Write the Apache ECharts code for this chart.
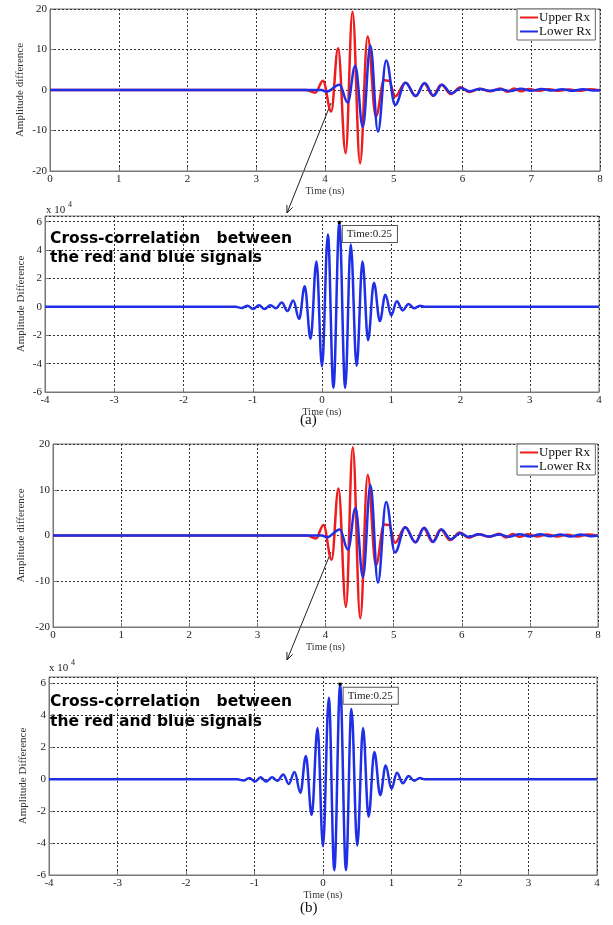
<!DOCTYPE html>
<html>
<head>
<meta charset="utf-8">
<script src="https://cdn.jsdelivr.net/npm/echarts@6/dist/echarts.min.js"></script>
<style>
  html, body { margin: 0; padding: 0; background: #fff; }
  #ec { width: 613px; height: 925px; }
</style>
</head>
<body>
<div id="ec"></div>
<script>
// received signals (ns, amplitude) - peaks
var upperT = [0, 3.72, 3.86, 3.97, 4.09, 4.19, 4.30, 4.40, 4.51, 4.62, 4.74, 4.86, 4.93, 5.02, 5.17, 5.32, 5.44, 5.57, 5.69, 5.83, 5.97, 6.10, 6.25, 6.40, 6.55, 6.65, 6.75, 6.85, 6.97, 7.10, 7.25, 7.40, 7.55, 7.70, 7.85, 8.0];
var upperV = [0, 0, -0.65, 2.3, -5.3, 10.3, -15.6, 19.3, -18.1, 13.2, -6.5, 2.4, 2.3, -1.6, 1.8, -1.5, 1.6, -1.4, 1.3, -1.0, 0.65, -0.5, 0.3, -0.3, 0.4, -0.45, 0.35, -0.3, 0.25, -0.2, 0.2, -0.2, 0.15, -0.2, 0.2, -0.1];
var lowerT = [0, 3.95, 4.02, 4.21, 4.33, 4.44, 4.55, 4.66, 4.77, 4.89, 5.02, 5.17, 5.32, 5.45, 5.58, 5.70, 5.84, 5.98, 6.10, 6.25, 6.40, 6.55, 6.70, 6.85, 7.00, 7.15, 7.30, 7.45, 7.60, 7.75, 7.90, 8.0];
var lowerV = [0, 0, -0.4, 1.3, -3.1, 6.0, -9.1, 11.0, -10.3, 7.3, -3.7, 1.8, -1.5, 1.7, -1.4, 1.3, -0.8, 0.5, -0.3, 0.25, -0.2, 0.2, -0.25, 0.3, -0.2, 0.25, -0.15, 0.2, -0.2, 0.2, -0.15, 0];

// cross-correlation (ns, x 10^4)
var corrT = [-4, -1.25, -1.16, -1.075, -0.995, -0.91, -0.83, -0.745, -0.665, -0.58, -0.5, -0.415, -0.33, -0.25, -0.165, -0.08, 0.0, 0.085, 0.165, 0.25, 0.335, 0.415, 0.5, 0.585, 0.665, 0.75, 0.835, 0.915, 1.0, 1.08, 1.165, 1.25, 1.33, 1.415, 1.48, 4];
var corrV = [0, 0, -0.08, 0.08, -0.15, 0.12, -0.15, 0.12, -0.1, 0.3, -0.3, 0.45, -0.85, 1.45, -2.25, 3.2, -4.2, 5.1, -5.7, 5.9, -5.7, 4.4, -4.15, 3.2, -2.35, 1.7, -1.0, 0.85, -0.6, 0.4, -0.25, 0.2, -0.1, 0.08, 0, 0];
var peakTime = 0.25;
var peakValue = 5.95;

var serif = "'Liberation Serif', 'DejaVu Serif', serif";
var red = '#ee1c1c';
var blue = '#1f2fe6';

function pairs(t, v) {
  return t.map(function (x, i) { return [x, v[i]]; });
}

function xAx(gi, min, max, gap) {
  return {
    type: 'value', gridIndex: gi, min: min, max: max, interval: 1,
    name: 'Time (ns)', nameLocation: 'middle', nameGap: gap,
    nameTextStyle: { fontFamily: serif, fontSize: 10, color: '#333' },
    axisLine: { show: true, onZero: false, lineStyle: { color: '#777' } },
    axisTick: { show: true, inside: true, length: 4, lineStyle: { color: '#777' } },
    axisLabel: { fontFamily: serif, fontSize: 11, color: '#222', margin: 3 },
    splitLine: { show: true, lineStyle: { color: '#333', type: [2, 2], width: 1 } }
  };
}

function yAx(gi, min, max, interval, name, gap) {
  return {
    type: 'value', gridIndex: gi, min: min, max: max, interval: interval,
    name: name, nameLocation: 'middle', nameGap: gap, nameRotate: 90, nameMoveOverlap: false,
    nameTextStyle: { fontFamily: serif, fontSize: 11, color: '#333' },
    axisLine: { show: true, onZero: false, lineStyle: { color: '#777' } },
    axisTick: { show: true, inside: true, length: 4, lineStyle: { color: '#777' } },
    axisLabel: { fontFamily: serif, fontSize: 11, color: '#222', margin: 3, showMaxLabel: max % interval === 0 },
    splitLine: { show: true, lineStyle: { color: '#333', type: [2, 2], width: 1 } }
  };
}

function sig(name, gi, t, v, color) {
  return {
    name: name, type: 'line', xAxisIndex: gi, yAxisIndex: gi,
    data: pairs(t, v), symbol: 'none', smooth: 0.38, smoothMonotone: 'x',
    lineStyle: { color: color, width: 2.5 }, itemStyle: { color: color }
  };
}

function corr(gi) {
  var s = sig('Cross-correlation', gi, corrT, corrV, blue);
  s.markPoint = {
    symbol: 'rect', symbolSize: 3, itemStyle: { color: '#000' },
    label: {
      show: true, formatter: 'Time:' + peakTime, position: [5, 5],
      backgroundColor: '#fff', borderColor: '#555', borderWidth: 1,
      padding: [3, 5, 2, 4], fontFamily: serif, fontSize: 11, color: '#222'
    },
    data: [{ coord: [peakTime, peakValue] }]
  };
  return s;
}

function legend(top) {
  return {
    data: ['Upper Rx', 'Lower Rx'], orient: 'vertical', left: 517, top: top,
    icon: 'rect', backgroundColor: '#fff', borderColor: '#666', borderWidth: 1,
    padding: [2, 4, 2, 3], itemGap: 1, itemWidth: 18, itemHeight: 2,
    textStyle: { fontFamily: serif, fontSize: 13, color: '#111', padding: [0, 0, 0, -4] }
  };
}

function arrow(x1, y1, x2, y2) {
  var a = Math.atan2(y2 - y1, x2 - x1), L = 8, s = 0.4;
  return [
    { type: 'line', shape: { x1: x1, y1: y1, x2: x2, y2: y2 }, style: { stroke: '#222', lineWidth: 1 } },
    { type: 'polyline', shape: { points: [
      [x2 - L * Math.cos(a - s), y2 - L * Math.sin(a - s)], [x2, y2],
      [x2 - L * Math.cos(a + s), y2 - L * Math.sin(a + s)]] },
      style: { stroke: '#222', fill: null, lineWidth: 1 } }
  ];
}

function texts(top0, top1, xLeft, lh) {
  return [
    { type: 'text', left: xLeft, top: top0, style: { text: 'x 10', font: '11px ' + serif, fill: '#222' } },
    { type: 'text', left: xLeft + 22, top: top0 - 4, style: { text: '4', font: '8px ' + serif, fill: '#222' } },
    { type: 'text', left: 50, top: top1, style: {
      text: 'Cross-correlation   between\nthe red and blue signals',
      font: 'bold 15.5px "DejaVu Sans"', fill: '#000', lineHeight: lh } }
  ];
}

var myEchart = echarts.init(document.getElementById('ec'));
myEchart.setOption({
  animation: false,
  backgroundColor: '#fff',
  grid: [
    { left: 50, top: 9, width: 550, height: 162, show: true, borderColor: '#777', borderWidth: 1 },
    { left: 45, top: 216, width: 554, height: 176, show: true, borderColor: '#777', borderWidth: 1 },
    { left: 53, top: 444, width: 545, height: 183, show: true, borderColor: '#777', borderWidth: 1 },
    { left: 49, top: 677, width: 548, height: 198, show: true, borderColor: '#777', borderWidth: 1 }
  ],
  xAxis: [xAx(0, 0, 8, 11), xAx(1, -4, 4, 13), xAx(2, 0, 8, 12), xAx(3, -4, 4, 15)],
  yAxis: [
    yAx(0, -20, 20, 10, 'Amplitude difference', 24),
    yAx(1, -6, 6.4, 2, 'Amplitude Difference', 18),
    yAx(2, -20, 20, 10, 'Amplitude difference', 26),
    yAx(3, -6, 6.4, 2, 'Amplitude Difference', 20)
  ],
  legend: [legend(9), legend(444)],
  series: [
    sig('Upper Rx', 0, upperT, upperV, red),
    sig('Lower Rx', 0, lowerT, lowerV, blue),
    corr(1),
    sig('Upper Rx', 2, upperT, upperV, red),
    sig('Lower Rx', 2, lowerT, lowerV, blue),
    corr(3)
  ],
  graphic: [].concat(
    arrow(331, 103, 287, 213),
    arrow(331, 552, 287, 660),
    texts(205, 229, 46, 19),
    texts(663, 692, 49, 20),
    [
      { type: 'text', left: 300, top: 413, style: { text: '(a)', font: '15px ' + serif, fill: '#111' } },
      { type: 'text', left: 300, top: 901, style: { text: '(b)', font: '15px ' + serif, fill: '#111' } }
    ]
  )
});
</script>
</body>
</html>
